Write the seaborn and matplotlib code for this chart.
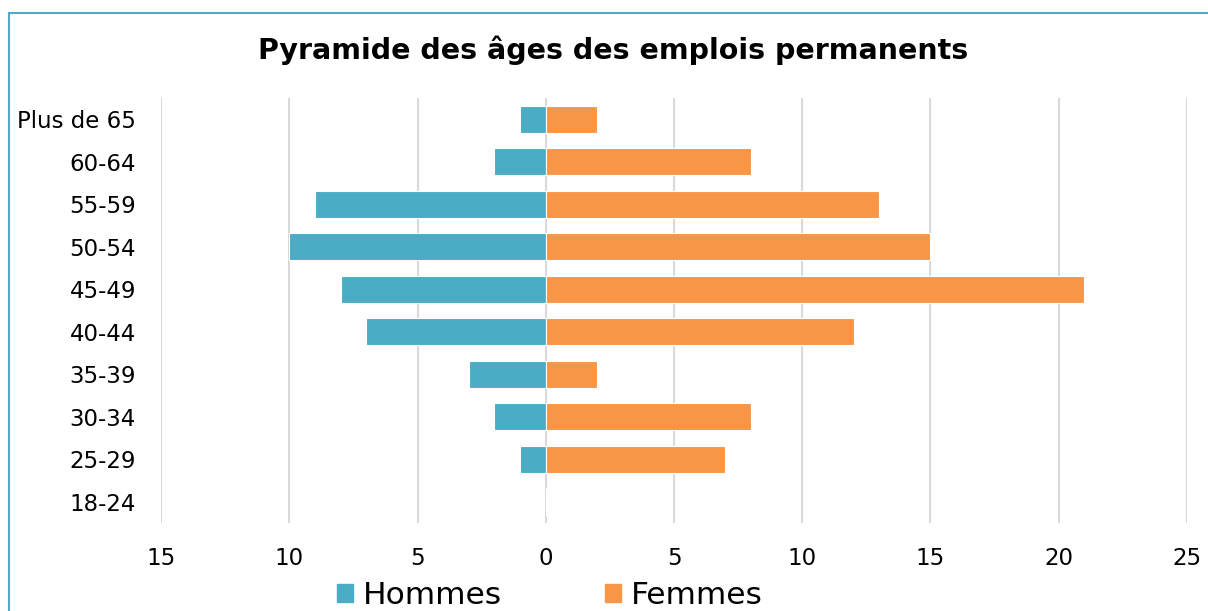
import matplotlib.pyplot as plt
import matplotlib.ticker as mticker
from matplotlib.lines import Line2D
from matplotlib.patches import Patch
import pandas as pd
import seaborn as sns

# Data
ages = ['Plus de 65', '60-64', '55-59', '50-54', '45-49',
        '40-44', '35-39', '30-34', '25-29', '18-24']
hommes = [1, 2, 9, 10, 8, 7, 3, 2, 1, 0]
femmes = [2, 8, 13, 15, 21, 12, 2, 8, 7, 0]
x_ticks = [-15, -10, -5, 0, 5, 10, 15, 20, 25]

blue = '#4BACC6'
orange = '#F79646'

# Long form table, men on the negative side
df = pd.DataFrame({
    'age': ages * 2,
    'value': [-v for v in hommes] + femmes,
    'sexe': ['Hommes'] * len(ages) + ['Femmes'] * len(ages),
})

sns.set_style('white')
plt.rcParams['font.family'] = ['DejaVu Sans']
plt.rcParams['text.color'] = 'black'

fig = plt.figure(figsize=(12.08, 6.11), dpi=100)
ax = fig.add_axes([0.1333, 0.144, 0.8493, 0.6956])

sns.barplot(data=df, x='value', y='age', hue='sexe', order=ages,
            palette={'Hommes': blue, 'Femmes': orange}, dodge=False,
            width=0.63, orient='h', saturation=1, edgecolor='white',
            linewidth=0.8, legend=False, ax=ax)

ax.set_xlim(-15, 25)
ax.set_xticks(x_ticks)
ax.xaxis.set_major_formatter(mticker.FuncFormatter(lambda v, p: f'{abs(int(v))}'))
ax.grid(axis='x', color='#D9D9D9', linewidth=1.5)
ax.set_axisbelow(True)
ax.tick_params(axis='x', length=0, labelsize=16.5, colors='black', pad=17)
ax.tick_params(axis='y', length=0, labelsize=16.5, colors='black', pad=18)
ax.set_xlabel('')
ax.set_ylabel('')
for s in ax.spines.values():
    s.set_visible(False)

fig.text(613 / 1208, 1 - 50 / 611, 'Pyramide des âges des emplois permanents',
         ha='center', va='center', fontsize=20.5, fontweight='bold', color='black')

# Legend at the bottom
handles = [Patch(color=blue, label='Hommes'), Patch(color=orange, label='Femmes')]
fig.legend(handles=handles, loc='center', bbox_to_anchor=(0.455, 0.025), ncol=2,
           frameon=False, fontsize=22.5, handlelength=0.52, handleheight=0.52,
           handletextpad=0.3, columnspacing=3.3, labelcolor='black')

# Light blue frame (top and left edges visible)
fig.add_artist(Line2D([9 / 1208, 1], [1 - 13 / 611, 1 - 13 / 611],
                      transform=fig.transFigure, color=blue, linewidth=1.5))
fig.add_artist(Line2D([9 / 1208, 9 / 1208], [0, 1 - 13 / 611],
                      transform=fig.transFigure, color=blue, linewidth=1.5))

fig.savefig('out.png', dpi=100)
